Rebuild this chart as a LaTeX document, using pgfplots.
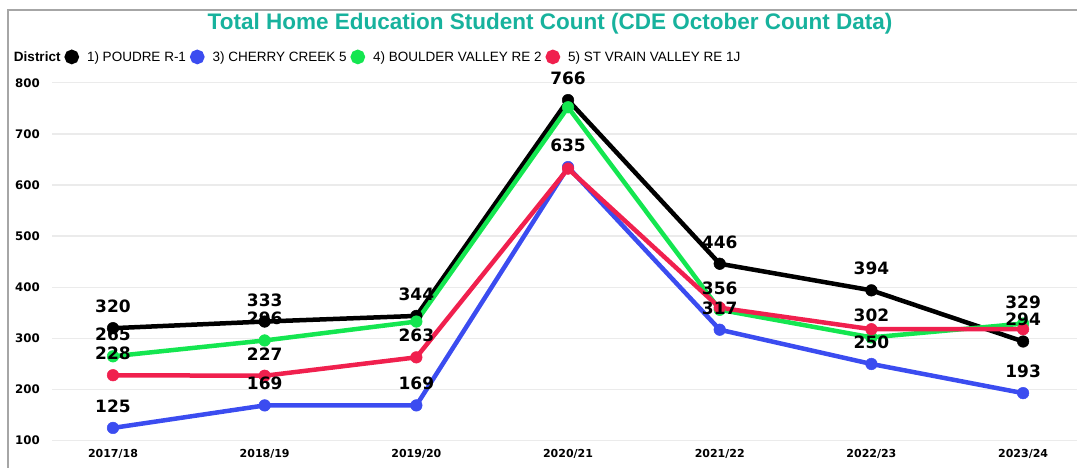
\documentclass[border=0pt]{standalone}
\usepackage{pgfplots}
\pgfplotsset{compat=1.18}
\usepackage{fontspec}
\setmainfont{Liberation Sans}
\newfontfamily\dvb{DejaVu Sans}
\newcommand\dvbf{\dvb\bfseries}
\definecolor{cblue}{HTML}{3B4CF0}
\definecolor{cgreen}{HTML}{14E650}
\definecolor{cred}{HTML}{F0204E}
\definecolor{cteal}{HTML}{17B29D}
\definecolor{cgrid}{HTML}{EBEBEB}
\begin{document}
\begin{tikzpicture}[x=1pt,y=1pt]
\path[use as bounding box] (0,0) rectangle (1077,-468);
\draw[line width=2pt, black!35] (8,-470) -- (8,-10) -- (1080,-10);
\node[font=\fontsize{22.5}{26}\selectfont\bfseries, text=cteal] at (550,-24) {Total Home Education Student Count (CDE October Count Data)};
\begin{axis}[
 at={(52pt,-440.7pt)}, anchor=south west,
 scale only axis, width=1025pt, height=358pt,
 xmin=-0.402, xmax=6.355, ymin=100, ymax=800,
 xtick={0,...,6},
 xticklabels={2017/18,2018/19,2019/20,2020/21,2021/22,2022/23,2023/24},
 ytick={100,200,...,800},
 ymajorgrids, major grid style={cgrid, line width=1.5pt},
 axis line style={draw=none}, major tick length=0pt,
 tick label style={font=\dvbf\fontsize{11}{13}\selectfont},
 yticklabel style={font=\dvbf\fontsize{11.8}{13}\selectfont},
 /pgf/number format/assume math mode=true,
 yticklabel style={inner sep=0pt, anchor=east, xshift=-12pt},
 xticklabel style={inner sep=0pt, anchor=north, yshift=-8pt},
 clip=false,
 legend style={at={(-0.048,1.072)}, anchor=west, draw=none, fill=none,
   font=\fontsize{13.5}{15}\selectfont, legend columns=-1,
   /tikz/every even column/.append style={column sep=2pt},
   /tikz/every odd column/.append style={column sep=6pt}},
 legend image code/.code={\fill[#1] (0pt,0pt) circle (5pt);},
 every axis plot/.append style={line width=4.5pt, mark=*, mark size=5.8pt, mark options={line width=0.5pt}},
 nodes near coords style={font=\dvbf\fontsize{17}{20}\selectfont, text=black, anchor=south, inner sep=0pt, yshift=15pt},
]
\addlegendimage{empty legend}
\addlegendentry{\textbf{District}}
\addplot[color=black] coordinates {(0,320)(1,333)(2,344)(3,766)(4,446)(5,394)(6,294)};
\addlegendentry{1) POUDRE R-1}
\addplot[color=cblue] coordinates {(0,125)(1,169)(2,169)(3,635)(4,317)(5,250)(6,193)};
\addlegendentry{3) CHERRY CREEK 5}
\addplot[color=cgreen] coordinates {(0,265)(1,296)(2,333)(3,752)(4,356)(5,302)(6,329)};
\addlegendentry{4) BOULDER VALLEY RE 2}
\addplot[color=cred] coordinates {(0,228)(1,227)(2,263)(3,632)(4,360)(5,318)(6,318)};
\addlegendentry{5) ST VRAIN VALLEY RE 1J}
% data labels
\addplot[forget plot, draw=none, mark=none, nodes near coords, point meta=y] coordinates {(0,320)(1,333)(2,344)(3,766)(4,446)(5,394)(6,294)};
\addplot[forget plot, draw=none, mark=none, nodes near coords, point meta=y] coordinates {(0,125)(1,169)(2,169)(3,635)(4,317)(5,250)(6,193)};
\addplot[forget plot, draw=none, mark=none, nodes near coords, point meta=y] coordinates {(0,265)(1,296)(4,356)(5,302)(6,329)};
\addplot[forget plot, draw=none, mark=none, nodes near coords, point meta=y] coordinates {(0,228)(1,227)(2,263)};
\end{axis}
\end{tikzpicture}
\end{document}
